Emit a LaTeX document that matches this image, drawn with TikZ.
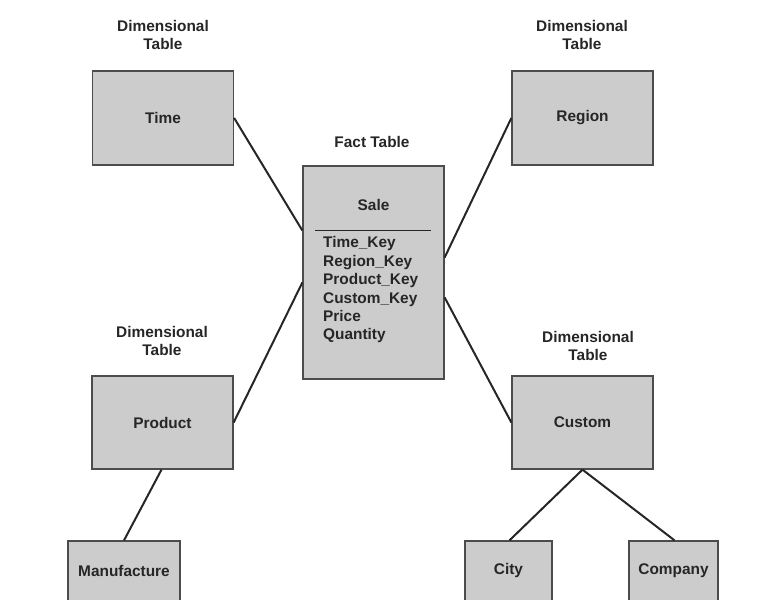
\documentclass[tikz,border=0pt]{standalone}
\usepackage{fontspec}
\setmainfont{Liberation Sans}
\usetikzlibrary{calc}
\definecolor{boxfill}{gray}{0.80}
\definecolor{boxline}{gray}{0.30}
\definecolor{ink}{gray}{0.15}
\begin{document}
\begin{tikzpicture}[x=1pt,y=-1pt,
  font=\fontsize{15.4}{17.5}\selectfont\bfseries,
  table/.style={draw=boxline,line width=1.3pt,fill=boxfill,text=ink,
    rectangle,inner sep=0pt,minimum width=#1},
  table/.default=141pt,
  caption/.style={text=ink,align=center,inner sep=0pt},
  link/.style={draw=ink,line width=2pt}]
\useasboundingbox (0,0) rectangle (770,599);

% fact table
\node[table,minimum height=213pt] (fact) at (373.5,272.5) {};
\node[caption] (factcap) at (372,142) {Fact Table};
\node[caption] (sale) at (373.5,205) {Sale};
\coordinate (rulel) at ($(fact.north west)+(13,65)$);
\coordinate (ruler) at ($(fact.north east)+(-14,65)$);
\draw[draw=ink,line width=1.6pt] (rulel) -- (ruler);
\node[caption,align=left,anchor=west,
  font=\fontsize{15.4}{18.4}\selectfont\bfseries] (keys) at (323,290)
  {Time\_Key\\Region\_Key\\Product\_Key\\Custom\_Key\\Price\\Quantity};

% dimensional tables
\node[table,minimum height=94pt] (time) at (163,118) {Time};
\node[caption] (timecap) at (163,35) {Dimensional\\Table};
\node[table,minimum height=94pt] (region) at (582.5,118) {Region};
\node[caption] (regioncap) at (582,35) {Dimensional\\Table};
\node[table,minimum height=93pt] (product) at (162.5,422.5) {Product};
\node[caption] (productcap) at (162,341) {Dimensional\\Table};
\node[table,minimum height=93pt] (custom) at (582.5,422.5) {Custom};
\node[caption] (customcap) at (588,346) {Dimensional\\Table};

% sub-dimension tables, running off the bottom edge
\node[table=112pt,minimum height=60pt] (manu) at (124,571) {Manufacture};
\node[table=87pt,minimum height=60pt] (city) at (508.5,571) {City};
\node[table=89pt,minimum height=60pt] (company) at (673.5,571) {Company};

% connectors
\draw[link] (time.east) -- ([yshift=42pt]fact.west);
\draw[link] (region.west) -- ([yshift=15pt]fact.east);
\draw[link] (product.east) -- ([yshift=-10pt]fact.west);
\draw[link] ([yshift=-25pt]fact.east) -- (custom.west);
\draw[link] ([xshift=-1pt]product.south) -- (manu.north);
\draw[link] (custom.south) -- ([xshift=1pt]city.north);
\draw[link] (custom.south) -- ([xshift=1pt]company.north);
\end{tikzpicture}
\end{document}
